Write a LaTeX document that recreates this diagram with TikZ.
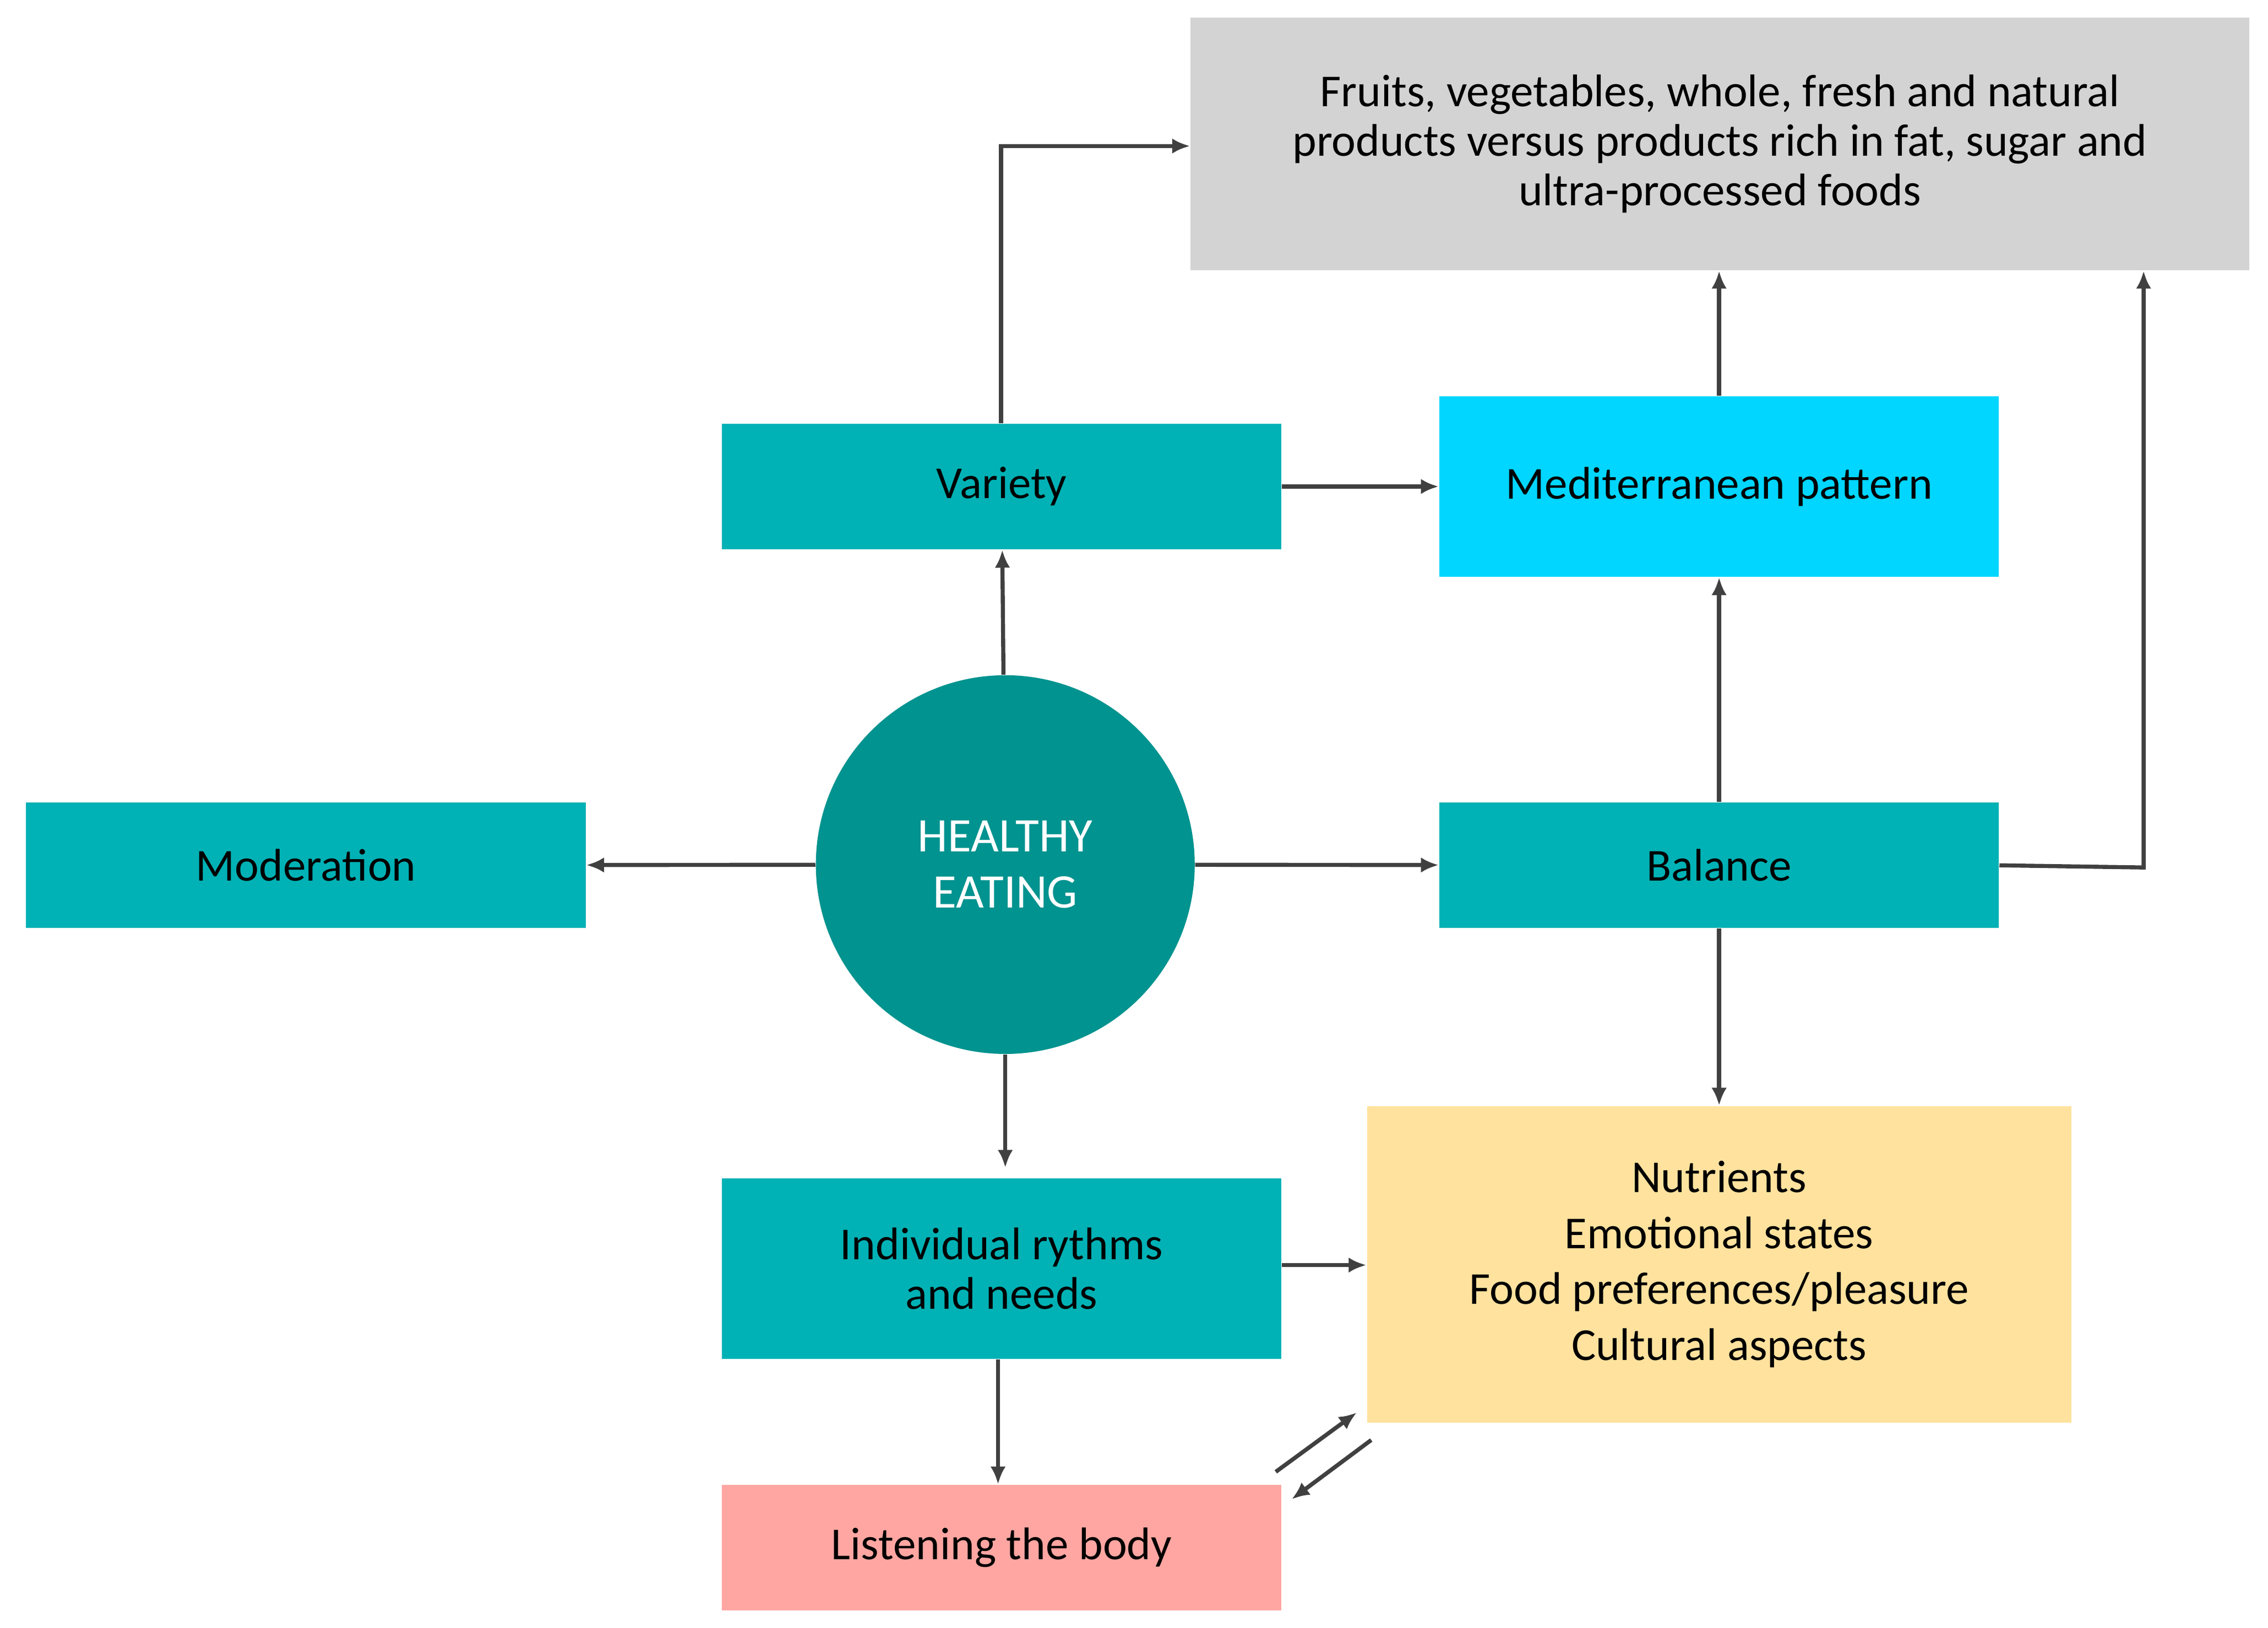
\documentclass[tikz,border=0pt]{standalone}
\usepackage{fontspec}
\setmainfont{Carlito}
\usetikzlibrary{arrows.meta, positioning}
\definecolor{tealbox}{HTML}{00B2B5}
\definecolor{tealdark}{HTML}{00938F}
\definecolor{greybox}{HTML}{D3D3D3}
\definecolor{skybox}{HTML}{00D6FF}
\definecolor{sandbox}{HTML}{FFE29E}
\definecolor{rosebox}{HTML}{FFA6A2}
\definecolor{linegrey}{HTML}{404040}
\begin{document}
\begin{tikzpicture}[x=0.02cm, y=-0.02cm,
            box/.style={rectangle, fill=tealbox, minimum width=7.74cm, minimum height=1.74cm, align=center, inner sep=0pt},
            link/.style={draw=linegrey, line width=1.6pt, -{Latex[length=7pt, width=6pt]}}]
        \tikzset{every node/.style={font=\fontsize{18}{21}\selectfont}}
        \useasboundingbox (0,0) rectangle (1568,1126);
        \node[box, fill=greybox, minimum width=14.64cm, minimum height=3.5cm, font=\fontsize{18}{19.5}\selectfont](fruits) at (1189,99.5) {Fruits, vegetables, whole, fresh and natural\\products versus products rich in fat, sugar and\\ultra-processed foods};
        \node[box](variety) at (692.5,336.5) {Variety};
        \node[box, fill=skybox, minimum height=2.5cm](medit) at (1188.5,336.5) {Mediterranean pattern};
        \node[box](moder) at (211.5,598.5) {Moderation};
        \node[circle, fill=tealdark, minimum size=5.24cm, align=center, text=white, font=\fontsize{19}{22}\selectfont](healthy) at (695,598) {HEALTHY\\EATING};
        \node[box](balance) at (1188.5,598.5) {Balance};
        \node[box, fill=sandbox, minimum width=9.74cm, minimum height=4.38cm, font=\fontsize{18}{22}\selectfont](nutr) at (1188.5,874.5) {Nutrients\\Emotional states\\Food preferences/pleasure\\Cultural aspects};
        \node[box, minimum height=2.5cm, font=\fontsize{18}{19.5}\selectfont](indiv) at (692.5,877.5) {Individual rythms\\and needs};
        \node[box, fill=rosebox](listen) at (692.5,1070.5) {Listening the body};
        % connectors
        \coordinate (vcorner) at (692,101);
        \coordinate (bcorner) at (1482,600);
        \draw[link] (variety.north -| vcorner) -- (vcorner) -- (vcorner -| fruits.west);
        \draw[link] (variety) -- (medit);
        \draw[link] (balance) -- (medit);
        \draw[link] (medit) -- (fruits.south -| medit);
        \draw[link] (balance.east) -- (bcorner) -- (bcorner |- fruits.south);
        \draw[link] (healthy) -- (moder);
        \draw[link] (healthy) -- (balance);
        \draw[link] (healthy) -- (variety);
        \draw[link, shorten >=4pt] (healthy) -- (indiv.north -| healthy);
        \draw[link] (balance) -- (nutr);
        \draw[link] (indiv.east |- 0,875) -- (nutr.west |- 0,875);
        \draw[link] (indiv.south -| 690,0) -- (listen.north -| 690,0);
        \coordinate (la) at (882,1018);
        \coordinate (lb) at (938,977);
        \coordinate (lc) at (948,996);
        \coordinate (ld) at (893,1037);
        \draw[link] (la) -- (lb);
        \draw[link] (lc) -- (ld);
    \end{tikzpicture}
\end{document}
